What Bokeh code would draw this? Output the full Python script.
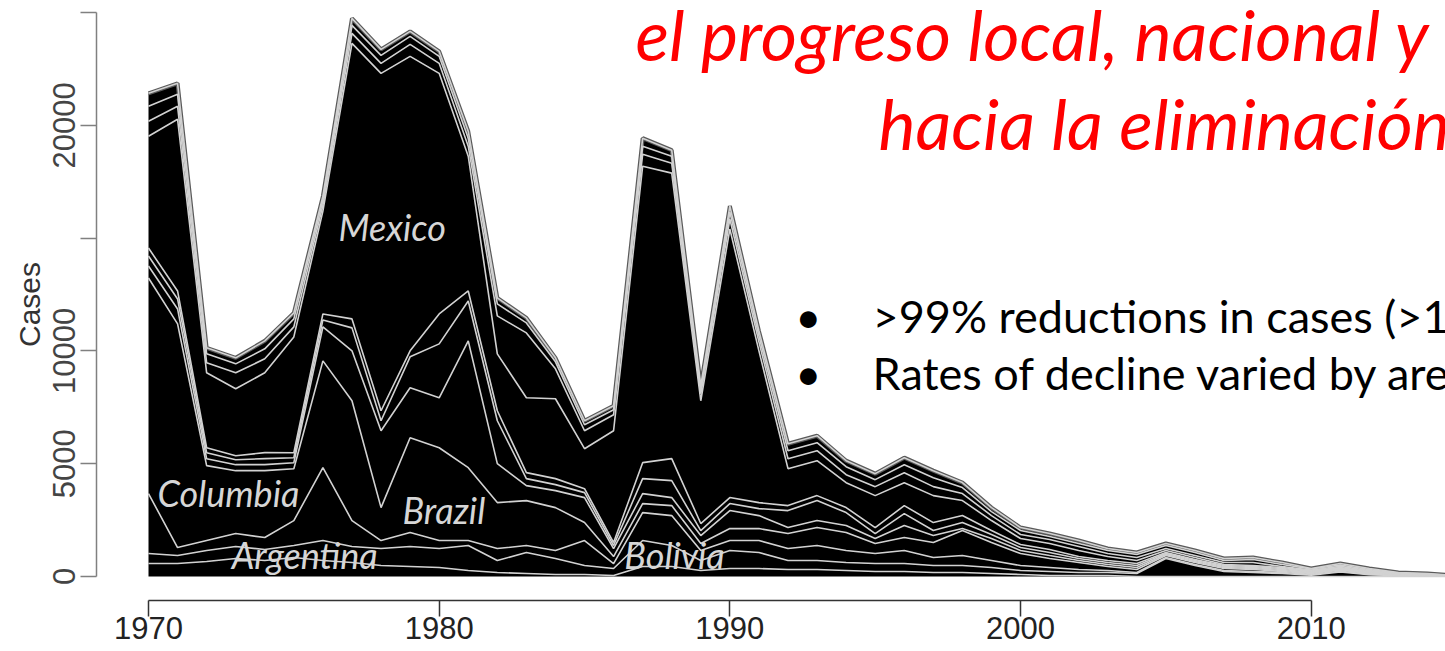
import numpy as np
from bokeh.plotting import figure
from bokeh.models import ColumnDataSource, Label, FixedTicker, Range1d
from bokeh.embed import file_html
from bokeh.resources import INLINE

years = list(range(1970, 2016))

argentina = [575, 575, 664, 797, 708, 841, 708, 620, 487, 443,
             398, 266, 177, 133, 89, 89, 44, 443, 443, 266,
             354, 354, 310, 310, 266, 221, 221, 177, 177, 133,
             89, 44, 44, 44, 0, 0, 0, 0, 0, 0,
             0, 0, 0, 0, 0, 0]
bolivia = [443, 354, 487, 531, 487, 531, 885, 708, 752, 885,
           841, 1106, 531, 929, 708, 398, 310, 1151, 929, 443,
           797, 708, 398, 398, 354, 354, 354, 310, 310, 266,
           177, 177, 133, 133, 133, 797, 487, 221, 177, 133,
           60, 200, 80, 40, 30, 10]
brazil = [2655, 354, 443, 575, 531, 1106, 3230, 1151, 354, 620,
          354, 221, 531, 310, 354, 1106, 221, 1239, 1328, 443,
          443, 531, 531, 664, 531, 443, 575, 354, 443, 310,
          221, 177, 133, 89, 44, 44, 44, 44, 44, 44,
          40, 30, 20, 10, 10, 3]
colombia = [9558, 9912, 3319, 2788, 2965, 2301, 4735, 5310, 1460, 4204,
            4115, 3230, 2036, 1991, 1903, 797, 310, 398, 443, 310,
            531, 531, 664, 797, 797, 443, 575, 664, 1106, 797,
            531, 398, 310, 177, 133, 89, 89, 89, 89, 44,
            40, 50, 40, 20, 15, 5]
ecuador = [531, 664, 310, 266, 266, 266, 1505, 2213, 3407, 2213,
           2213, 5620, 1726, 664, 752, 1106, 354, 443, 354, 354,
           797, 575, 266, 310, 310, 221, 531, 310, 89, 177,
           133, 133, 89, 89, 89, 44, 44, 44, 44, 44,
           30, 30, 20, 10, 5, 2]
el_salvador = [443, 443, 266, 221, 266, 221, 310, 1018, 443, 1372,
               2390, 1770, 1903, 310, 266, 221, 133, 664, 752, 221,
               310, 310, 752, 885, 575, 221, 531, 221, 266, 177,
               133, 133, 89, 89, 89, 44, 44, 44, 44, 44,
               30, 30, 20, 10, 5, 2]
guatemala = [354, 354, 221, 177, 266, 221, 266, 398, 443, 266,
             1328, 443, 443, 266, 266, 177, 133, 708, 974, 310,
             266, 266, 221, 221, 221, 266, 354, 354, 310, 177,
             133, 133, 89, 89, 89, 44, 44, 44, 44, 44,
             30, 30, 20, 10, 5, 2]
mexico = [4956, 7611, 3319, 2965, 3540, 5133, 4558, 12213, 14957, 13054,
          10664, 5974, 2522, 3319, 3540, 1770, 4956, 13142, 12656, 5443,
          11903, 6726, 1637, 1549, 1106, 1416, 1018, 1195, 664, 443,
          266, 266, 266, 177, 133, 89, 89, 44, 44, 44,
          20, 30, 20, 10, 8, 3]
paraguay = [664, 575, 443, 708, 620, 443, 266, 443, 443, 531,
            443, 443, 1681, 2876, 1328, 797, 708, 531, 443, 310,
            443, 398, 443, 443, 354, 398, 443, 398, 310, 221,
            177, 177, 177, 133, 133, 89, 89, 89, 133, 44,
            40, 50, 40, 20, 15, 5]
peru = [664, 531, 398, 398, 443, 354, 221, 354, 354, 354,
        310, 354, 531, 443, 310, 266, 221, 354, 310, 177,
        310, 266, 354, 354, 354, 310, 354, 398, 266, 177,
        177, 133, 133, 133, 133, 133, 133, 89, 133, 89,
        40, 60, 44, 22, 20, 6]
venezuela = [575, 487, 266, 266, 354, 266, 177, 310, 266, 221,
             221, 310, 266, 221, 177, 177, 177, 354, 266, 177,
             266, 221, 310, 310, 266, 266, 310, 310, 221, 177,
             133, 133, 133, 89, 89, 89, 89, 89, 89, 89,
             24, 65, 50, 25, 20, 6]

countries = ["Argentina", "Bolivia", "Brazil", "Colombia", "Ecuador", "El Salvador",
             "Guatemala", "Mexico", "Paraguay", "Peru", "Venezuela"]
series = [argentina, bolivia, brazil, colombia, ecuador, el_salvador,
          guatemala, mexico, paraguay, peru, venezuela]

x_ticks = [1970, 1980, 1990, 2000, 2010]
y_ticks = [0, 5000, 10000, 15000, 20000, 25000]
y_tick_labels = {0: "0", 5000: "5000", 10000: "10000", 15000: "", 20000: "20000", 25000: ""}

data = {"year": years}
for name, s in zip(countries, series):
    data[name] = s
source = ColumnDataSource(data)

p = figure(width=1445, height=651, output_backend="svg", toolbar_location=None,
           x_range=Range1d(1968.211, 2014.62), y_range=Range1d(-1064, 25177),
           min_border_left=96, min_border_right=0, min_border_top=8, min_border_bottom=51)
p.outline_line_color = None
p.grid.visible = False
p.background_fill_color = "white"
p.border_fill_color = "white"

p.varea_stack(stackers=countries, x="year", color=["black"] * len(countries), source=source)

cum = np.cumsum(np.array(series, dtype=float), axis=0)
# outer edge
p.line(years, cum[-1], line_color="#5a5a5a", line_width=4)
for i in range(len(countries)):
    p.line(years, cum[i], line_color="#d2d2d2", line_width=1.6)

# axes
xa = p.xaxis[0]
xa.ticker = FixedTicker(ticks=x_ticks)
xa.bounds = (1970, 2010)
xa.major_tick_out = 16
xa.major_tick_in = 0
xa.minor_tick_out = 0
xa.minor_tick_in = 0
xa.major_label_standoff = 0
xa.major_label_text_font = "Liberation Sans"
xa.major_label_text_font_size = "31px"
xa.major_label_text_color = "#222222"
xa.axis_line_color = "#333333"
xa.axis_line_width = 1.5
xa.major_tick_line_color = "#333333"
xa.major_tick_line_width = 1.5

ya = p.yaxis[0]
ya.ticker = FixedTicker(ticks=y_ticks)
ya.major_label_overrides = y_tick_labels
ya.bounds = (0, 25000)
ya.major_tick_out = 16
ya.major_tick_in = 0
ya.minor_tick_out = 0
ya.minor_tick_in = 0
ya.major_label_standoff = 5
ya.major_label_orientation = "parallel"
ya.major_label_text_font = "Liberation Sans"
ya.major_label_text_font_size = "31px"
ya.major_label_text_color = "#444444"
ya.axis_line_color = "#808080"
ya.axis_line_width = 1.5
ya.major_tick_line_color = "#808080"
ya.major_tick_line_width = 1.5
ya.axis_label = "Cases"
ya.axis_label_standoff = 5
ya.axis_label_text_font = "Liberation Sans"
ya.axis_label_text_font_size = "30px"
ya.axis_label_text_font_style = "normal"
ya.axis_label_text_color = "#333333"

# in-chart country labels
for txt, x, y in [("Mexico", 1976.54, 15470), ("Columbia", 1970.31, 3679),
                  ("Brazil", 1978.74, 2926), ("Argentina", 1972.86, 931),
                  ("Bolivia", 1986.37, 931)]:
    p.add_layout(Label(x=x, y=y, text=txt, text_font="Lato", text_font_style="italic",
                       text_font_size="36px", text_color="#d6d6d6",
                       text_baseline="middle", text_align="left"))

# slide title (red)
p.add_layout(Label(x=1986.75, y=24030, text="el progreso local, nacional y",
                   text_font="Lato", text_font_style="italic", text_font_size="70px",
                   text_color="#ff0000", text_baseline="middle", text_align="left"))
p.add_layout(Label(x=1995.11, y=20080, text="hacia la eliminación",
                   text_font="Lato", text_font_style="italic", text_font_size="70px",
                   text_color="#ff0000", text_baseline="middle", text_align="left"))

# bullets
for ytxt, txt in [(11560, ">99% reductions in cases (>15"), (9000, "Rates of decline varied by area")]:
    p.add_layout(Label(x=1992.70, y=ytxt, text="•", text_font="Lato", text_font_size="45px",
                       text_color="#000000", text_baseline="middle", text_align="center"))
    p.add_layout(Label(x=1994.91, y=ytxt, text=txt, text_font="Lato", text_font_size="45px",
                       text_color="#000000", text_baseline="middle", text_align="left"))

open("out.html", "w").write(file_html(p, INLINE))
